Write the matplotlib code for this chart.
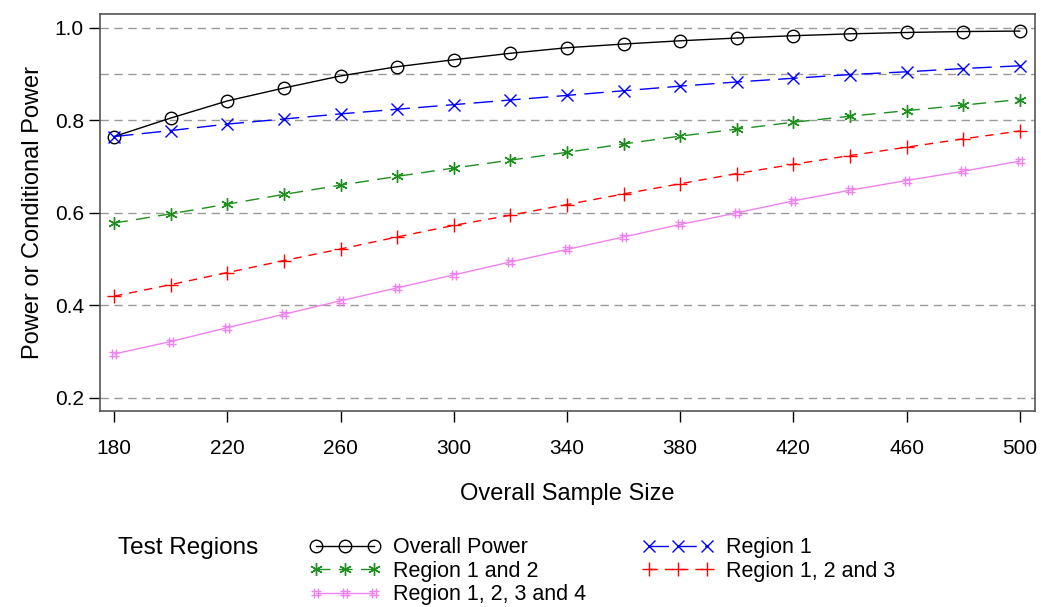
import numpy as np
import matplotlib
matplotlib.use("Agg")
import matplotlib.pyplot as plt
from matplotlib.path import Path

plt.rcParams["font.family"] = ["Liberation Sans", "DejaVu Sans"]

# sample sizes
sample_size = [180, 200, 220, 240, 260, 280, 300, 320, 340, 360, 380, 400, 420, 440, 460, 480, 500]

overall_power = [0.765, 0.805, 0.842, 0.870, 0.896, 0.916, 0.931, 0.945, 0.957, 0.965,
                 0.972, 0.978, 0.983, 0.987, 0.990, 0.992, 0.993]
region_1 = [0.765, 0.778, 0.792, 0.803, 0.814, 0.824, 0.834, 0.844, 0.854, 0.864,
            0.874, 0.883, 0.891, 0.899, 0.905, 0.912, 0.918]
region_12 = [0.578, 0.598, 0.619, 0.640, 0.660, 0.679, 0.697, 0.714, 0.731, 0.749,
             0.766, 0.781, 0.796, 0.809, 0.821, 0.833, 0.845]
region_123 = [0.420, 0.445, 0.471, 0.497, 0.522, 0.548, 0.573, 0.595, 0.618, 0.641,
              0.663, 0.685, 0.705, 0.724, 0.742, 0.760, 0.777]
region_1234 = [0.295, 0.322, 0.352, 0.381, 0.410, 0.438, 0.466, 0.494, 0.521, 0.548,
               0.575, 0.600, 0.626, 0.649, 0.670, 0.690, 0.712]

x_ticks = [180, 220, 260, 300, 340, 380, 420, 460, 500]
y_ticks = [0.2, 0.4, 0.6, 0.8, 1.0]
grid_y = [0.2, 0.4, 0.6, 0.8, 0.9, 1.0]

# '#' marker (two vertical + two horizontal strokes)
hash_marker = Path(
    [(-0.35, -1), (-0.35, 1), (0.35, -1), (0.35, 1),
     (-1, -0.35), (1, -0.35), (-1, 0.35), (1, 0.35)],
    [Path.MOVETO, Path.LINETO] * 4,
)
asterisk = (6, 2, 0)

fig = plt.figure(figsize=(10.41, 6.07), dpi=100)
ax = fig.add_axes([0.096, 0.323, 0.898, 0.654])

for gy in grid_y:
    ax.axhline(gy, color="#999999", lw=1.0, dashes=(6, 4), zorder=0)

ax.plot(sample_size, overall_power, color="black", lw=1.0, marker="o", ms=9,
        mfc="none", mec="black", mew=1.0, label="Overall Power")
ax.plot(sample_size, region_12, color="#1f8f1f", lw=1.0, dashes=(10, 6), marker=asterisk,
        ms=9, mew=1.0, label="Region 1 and 2")
ax.plot(sample_size, region_1234, color="violet", lw=1.0, marker=hash_marker, ms=7,
        mew=1.0, mfc="none", label="Region 1, 2, 3 and 4")
ax.plot(sample_size, region_1, color="blue", lw=1.0, dashes=(14, 6), marker="x", ms=9,
        mew=1.0, label="Region 1")
ax.plot(sample_size, region_123, color="red", lw=1.0, dashes=(6, 5), marker="+", ms=10,
        mew=1.0, label="Region 1, 2 and 3")

ax.set_xlim(175.0, 505.3)
ax.set_ylim(0.172, 1.030)
ax.set_xticks(x_ticks)
ax.set_yticks(y_ticks)
ax.set_yticklabels([f"{v:.1f}" for v in y_ticks])
ax.tick_params(axis="both", labelsize=15, direction="out", length=8, width=1.0)
ax.tick_params(axis="x", pad=12)
for sp in ax.spines.values():
    sp.set_color("#555555")
    sp.set_linewidth(1.2)

ax.set_xlabel("Overall Sample Size", fontsize=17, labelpad=18)
ax.set_ylabel("Power or Conditional Power", fontsize=17, labelpad=8)

fig.text(0.113, 0.097, "Test Regions", fontsize=17.5, va="center", ha="left")
leg = fig.legend(loc="upper left", bbox_to_anchor=(0.289, 0.129), ncol=2, frameon=False,
                 fontsize=15.5, numpoints=3, handlelength=3.3, handletextpad=0.6,
                 columnspacing=2.6, labelspacing=0.12, borderaxespad=0)

fig.savefig("out.png", dpi=100)
